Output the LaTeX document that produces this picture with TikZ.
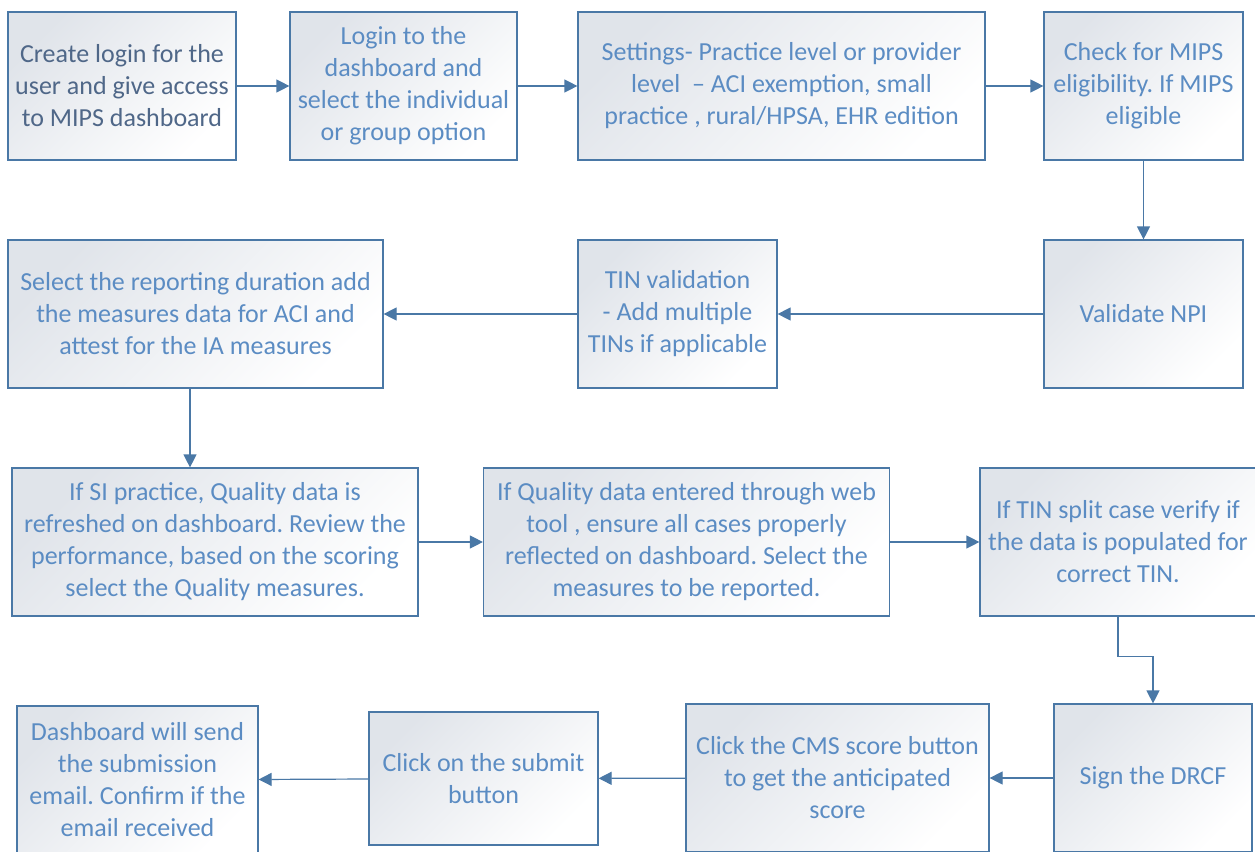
\documentclass[tikz,border=0pt]{standalone}
\usepackage{fontspec}
\setmainfont{Carlito}
\usetikzlibrary{arrows.meta}
\definecolor{boxline}{HTML}{4A78A6}
\definecolor{boxtext}{HTML}{5B8CC3}
\definecolor{firsttext}{HTML}{4F6788}
\definecolor{boxshade}{HTML}{E0E4EA}
\frenchspacing
\begin{document}
\begin{tikzpicture}[x=1pt,y=-1pt]
		\tikzset{
		stepbox/.style={draw=boxline,line width=1.2pt,top color=boxshade,bottom color=white,shading angle=45,
			text=boxtext,align=center,inner sep=0pt,minimum height=148,font=\fontsize{26}{32}\selectfont},
		flow/.style={draw=boxline,line width=1.2pt,-{Triangle[length=13pt,width=13pt]}}
		}
		\useasboundingbox (0,0) rectangle (1255,851);
		\node[stepbox,minimum width=228,text=firsttext] (login) at (122,86) {Create login for the\\user and give access\\to MIPS dashboard};
		\node[stepbox,minimum width=227] (dash) at (403.5,86) {Login to the\\dashboard and\\select the individual\\or group option};
		\node[stepbox,minimum width=407] (settings) at (781.5,86) {Settings- Practice level or provider\\level\ \ -- ACI exemption, small\\practice , rural/HPSA, EHR edition};
		\node[stepbox,minimum width=199] (check) at (1143.5,86) {Check for MIPS\\eligibility. If MIPS\\eligible};
		\node[stepbox,minimum width=199] (npi) at (1143.5,314) {Validate NPI};
		\node[stepbox,minimum width=199] (tin) at (677.5,314) {TIN validation\\- Add multiple\\TINs if applicable};
		\node[stepbox,minimum width=375] (report) at (195.5,314) {Select the reporting duration add\\the measures data for ACI and\\attest for the IA measures};
		\node[stepbox,minimum width=406] (si) at (215,542) {If SI practice, Quality data is\\refreshed on dashboard. Review the\\performance, based on the scoring\\select the Quality measures.};
		\node[stepbox,minimum width=406] (web) at (686.5,542) {If Quality data entered through web\\tool , ensure all cases properly\\reflected on dashboard. Select the\\measures to be reported.};
		\node[stepbox,minimum width=276] (split) at (1118,542) {If TIN split case verify if\\the data is populated for\\correct TIN.};
		\node[stepbox,minimum width=198] (drcf) at (1153,778) {Sign the DRCF};
		\node[stepbox,minimum width=303] (cms) at (837.5,778) {Click the CMS score button\\to get the anticipated\\score};
		\node[stepbox,minimum width=229,minimum height=133] (submit) at (483.5,778.5) {Click on the submit\\button};
		\node[stepbox,minimum width=241] (email) at (137.5,780) {Dashboard will send\\the submission\\email. Confirm if the\\email received};
		\draw[flow] (login)--(dash);
		\draw[flow] (dash)--(settings);
		\draw[flow] (settings)--(check);
		\draw[flow] (check)--(npi);
		\draw[flow] (npi)--(tin);
		\draw[flow] (tin)--(report);
		\draw[flow] ([xshift=-5.5pt]report.south)--([xshift=-5.5pt]report.south |- si.north);
		\draw[flow] (si)--(web);
		\draw[flow] (web)--(split);
		\draw[flow] (split.south)--++(0,40)-|(drcf.north);
		\draw[flow] (drcf)--(cms);
		\draw[flow] (cms)--(submit);
		\draw[flow] (submit)--(email);
	\end{tikzpicture}
\end{document}
